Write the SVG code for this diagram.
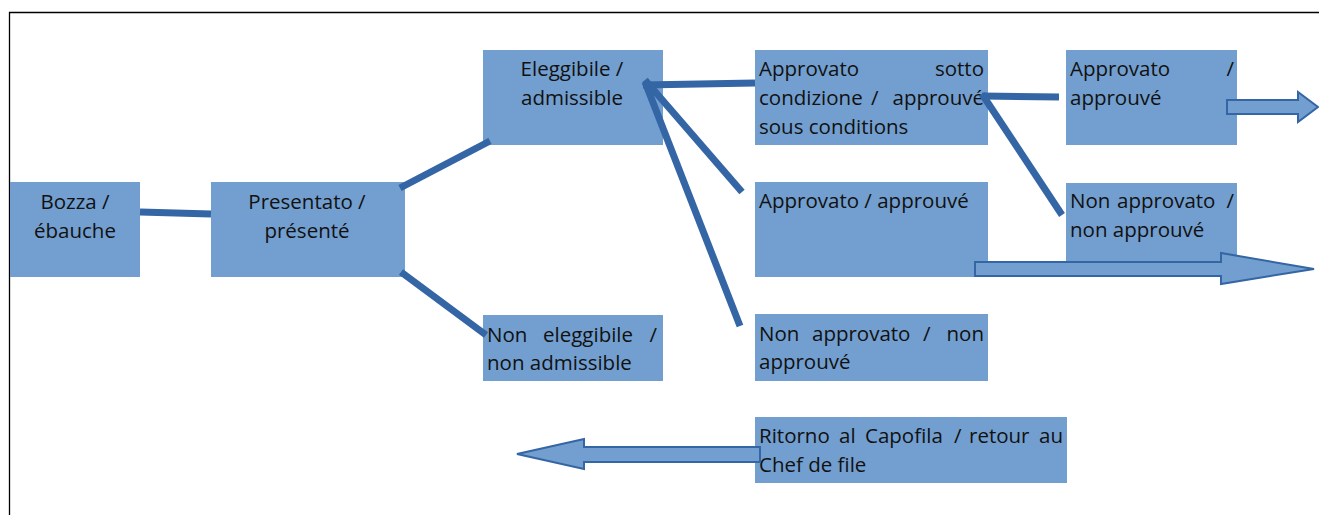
<svg xmlns="http://www.w3.org/2000/svg" width="1319" height="515" viewBox="0 0 1319 515">
<style>
.box{fill:#729fcf;}
.t{font-family:"Open Sans","Noto Sans","Liberation Sans",sans-serif;font-size:20.5px;font-weight:400;fill:#111;}
.c{text-anchor:middle;}
.e{text-anchor:end;}
.con{stroke:#3465a4;stroke-width:7;fill:none;stroke-linecap:butt;}
.blk{fill:#729fcf;stroke:#3465a4;stroke-width:2;stroke-linejoin:miter;}
.frame{stroke:#000;stroke-width:1.3;fill:none;}
</style>
<rect width="1319" height="515" fill="#fff"/>
<g id="frame"><path class="frame" d="M9.5,515 V12.5 H1319"/></g>

<g id="bozza"><rect class="box" x="10" y="182" width="130" height="95"/>
<text class="t c" x="75" y="209">Bozza /</text><text class="t c" x="75" y="238">ébauche</text></g>

<g id="presentato"><rect class="box" x="211" y="182" width="194" height="95"/>
<text class="t c" x="307" y="209">Presentato /</text><text class="t c" x="307" y="238">présenté</text></g>

<g id="eleggibile"><rect class="box" x="483" y="50" width="180" height="95"/>
<text class="t c" x="572" y="76">Eleggibile /</text><text class="t c" x="572" y="105">admissible</text></g>

<g id="non-eleggibile"><rect class="box" x="483" y="315" width="180" height="66"/>
<text class="t"><tspan x="487" y="342">Non</tspan><tspan x="543" y="342">eleggibile</tspan><tspan class="e" x="657" y="342">/</tspan></text>
<text class="t" x="487" y="370">non admissible</text></g>

<g id="approvato-sotto-condizione"><rect class="box" x="755" y="50" width="233" height="95"/>
<text class="t"><tspan x="759" y="76">Approvato</tspan><tspan class="e" x="984" y="76">sotto</tspan></text>
<text class="t"><tspan x="759" y="105">condizione</tspan><tspan x="871" y="105">/</tspan><tspan class="e" x="984" y="105">approuvé</tspan></text>
<text class="t" x="759" y="134">sous conditions</text></g>

<g id="approvato-mid"><rect class="box" x="755" y="182" width="233" height="95"/>
<text class="t" x="759" y="208">Approvato / approuvé</text></g>

<g id="non-approvato-mid"><rect class="box" x="755" y="314" width="233" height="67"/>
<text class="t"><tspan x="759" y="341">Non</tspan><tspan x="812" y="341">approvato</tspan><tspan x="923" y="341">/</tspan><tspan class="e" x="984" y="341">non</tspan></text>
<text class="t" x="759" y="369">approuvé</text></g>

<g id="approvato-right"><rect class="box" x="1066" y="50" width="171" height="95"/>
<text class="t"><tspan x="1070" y="76">Approvato</tspan><tspan class="e" x="1234" y="76">/</tspan></text>
<text class="t" x="1070" y="105">approuvé</text></g>

<g id="non-approvato-right"><rect class="box" x="1066" y="183" width="171" height="94"/>
<text class="t"><tspan x="1070" y="208">Non</tspan><tspan x="1117" y="208">approvato</tspan><tspan class="e" x="1234" y="208">/</tspan></text>
<text class="t" x="1070" y="237">non approuvé</text></g>

<g id="ritorno"><rect class="box" x="755" y="417" width="312" height="66"/>
<text class="t"><tspan x="759" y="443">Ritorno</tspan><tspan x="839" y="443">al</tspan><tspan x="865" y="443">Capofila</tspan><tspan x="954" y="443">/</tspan><tspan x="969" y="443">retour</tspan><tspan class="e" x="1063" y="443">au</tspan></text>
<text class="t" x="759" y="472">Chef de file</text></g>

<g id="connectors">
<line class="con" x1="140" y1="212" x2="211" y2="214"/>
<line class="con" x1="400" y1="188" x2="490" y2="141"/>
<line class="con" x1="401" y1="272" x2="486" y2="335"/>
<line class="con" x1="643" y1="85" x2="755" y2="83"/>
<line class="con" x1="645" y1="80" x2="742" y2="192"/>
<line class="con" x1="645" y1="82" x2="740" y2="326"/>
<line class="con" x1="982" y1="96" x2="1059" y2="97"/>
<line class="con" x1="982" y1="94" x2="1062" y2="215"/>
</g>

<g id="block-arrows">
<polygon class="blk" points="1227,100 1298,100 1298,92 1318,107 1298,122 1298,114 1227,114"/>
<polygon class="blk" points="975,262 1221,262 1221,253 1314,269 1221,284 1221,276 975,276"/>
<polygon class="blk" points="760,447 584,447 584,439 517,454 584,469 584,462 760,462"/>
</g>
</svg>
